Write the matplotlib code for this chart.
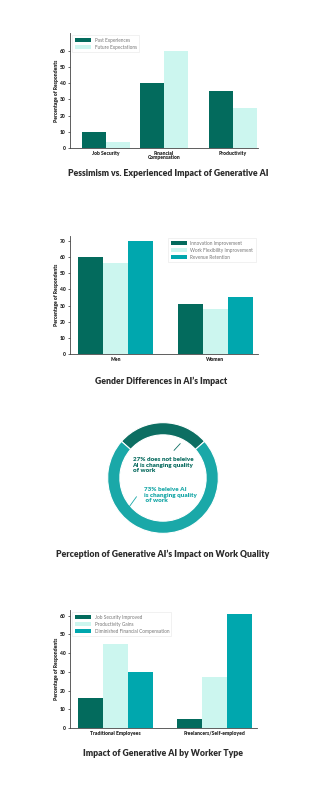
import matplotlib.pyplot as plt
import numpy as np

plt.rcParams['font.family'] = ['Lato', 'DejaVu Sans']

# colours
DARK = '#036b5d'
LIGHT = '#ccf6ef'
TEAL = '#00a7ae'
TEXT = '#2b2b2b'

# chart 1 : pessimism vs experienced impact
pess_cats = ['Job Security', 'Financial\nCompensation', 'Productivity']
pess_past = [10, 40, 35]
pess_future = [4, 60, 25]

# chart 2 : gender differences
gender_cats = ['Men', 'Women']
gender_innovation = [60, 31]
gender_flex = [56, 28]
gender_revenue = [70, 35]

# chart 3 : perception of work quality
quality_share = [27, 73]
quality_labels = ['27% does not beleive\nAI is changing quality\nof work',
                  '73% beleive AI\nis changing quality\n of work']

# chart 4 : worker type
worker_cats = ['Traditional Employees', 'Freelancers/Self-employed']
worker_security = [16, 5]
worker_productivity = [45, 27]
worker_diminished = [30, 61]

W, H = 330, 800
fig = plt.figure(figsize=(W / 100, H / 100), dpi=100)


def px_axes(left, top, right, bottom):
    return fig.add_axes([left / W, 1 - bottom / H, (right - left) / W, (bottom - top) / H])


def style(ax, ymax):
    for s in ['top', 'right']:
        ax.spines[s].set_visible(False)
    for s in ['left', 'bottom']:
        ax.spines[s].set_linewidth(0.6)
        ax.spines[s].set_color('#444444')
    ax.set_ylim(0, ymax)
    ax.tick_params(axis='y', labelsize=3.6, length=1.5, width=0.5, pad=1.5, colors=TEXT)
    ax.tick_params(axis='x', labelsize=3.6, length=0, pad=2, colors=TEXT)
    for lab in ax.get_xticklabels() + ax.get_yticklabels():
        lab.set_fontweight('heavy')
    ax.set_ylabel('Percentage of Respondents', fontsize=3.6, fontweight='heavy',
                  color=TEXT, labelpad=0.5)


def legend(ax, loc):
    leg = ax.legend(loc=loc, fontsize=3.4, frameon=True, handlelength=3.4,
                    handleheight=1.0, borderpad=0.5, labelspacing=0.45,
                    fancybox=False, edgecolor='#e6e6e6', labelcolor='#777777')
    leg.get_frame().set_linewidth(0.5)


def title(y, x, text):
    fig.text(x / W, 1 - y / H, text, ha='center', va='center', fontsize=6.2,
             fontweight='heavy', color=TEXT)


# --- chart 1
ax1 = px_axes(70, 33, 258, 148)
pess_pos = np.array([0, 1, 2.19])
bw = 0.42
ax1.bar(pess_pos - bw / 2, pess_past, bw, color=DARK, label='Past Experiences')
ax1.bar(pess_pos + bw / 2, pess_future, bw, color=LIGHT, label='Future Expectations')
ax1.set_xlim(-0.62, 2.62)
ax1.set_yticks(range(0, 61, 10))
ax1.set_xticks(pess_pos)
ax1.set_xticklabels(pess_cats, linespacing=0.9)
style(ax1, 71)
legend(ax1, 'upper left')
title(174, 168, 'Pessimism vs. Experienced Impact of Generative AI')

# --- chart 2
ax2 = px_axes(70, 236, 258, 354)
pos = np.arange(len(gender_cats))
bw = 0.25
ax2.bar(pos - bw, gender_innovation, bw, color=DARK, label='Innovation Improvement')
ax2.bar(pos, gender_flex, bw, color=LIGHT, label='Work Flexibility Improvement')
ax2.bar(pos + bw, gender_revenue, bw, color=TEAL, label='Revenue Retention')
ax2.set_xlim(-0.455, 1.425)
ax2.set_yticks(range(0, 71, 10))
ax2.set_xticks(pos)
ax2.set_xticklabels(gender_cats)
style(ax2, 73)
legend(ax2, 'upper right')
title(381, 161, 'Gender Differences in AI\u2019s Impact')

# --- chart 3 donut
RING_DARK = '#0d6e62'
RING_TEAL = '#1aa8a8'
ax3 = px_axes(106, 421, 220, 535)
start = 90 - quality_share[0] * 3.6 / 2
ax3.pie(quality_share, colors=[RING_DARK, RING_TEAL], startangle=start,
        counterclock=True, radius=1.0,
        wedgeprops=dict(width=0.22, edgecolor='white', linewidth=0.8))
ax3.set_aspect('equal')
ax3.set_xlim(-1.03, 1.03)
ax3.set_ylim(-1.03, 1.03)
ax3.text(-0.55, 0.23, quality_labels[0], fontsize=4.5, fontweight='heavy',
         color=RING_DARK, va='center', ha='left', linespacing=1.15)
ax3.text(-0.35, -0.31, quality_labels[1], fontsize=4.5, fontweight='heavy',
         color=RING_TEAL, va='center', ha='left', linespacing=1.15)
ax3.plot([0.20, 0.31], [0.50, 0.62], color=RING_DARK, lw=0.6)
ax3.plot([-0.48, -0.61], [-0.34, -0.52], color=RING_TEAL, lw=0.6)
title(554, 163, 'Perception of Generative AI\u2019s Impact on Work Quality')

# --- chart 4
ax4 = px_axes(70, 610, 257, 728)
pos = np.arange(len(worker_cats))
ax4.bar(pos - bw, worker_security, bw, color=DARK, label='Job Security Improved')
ax4.bar(pos, worker_productivity, bw, color=LIGHT, label='Productivity Gains')
ax4.bar(pos + bw, worker_diminished, bw, color=TEAL, label='Diminished Financial Compensation')
ax4.set_xlim(-0.455, 1.425)
ax4.set_yticks(range(0, 61, 10))
ax4.set_xticks(pos)
ax4.set_xticklabels(worker_cats)
style(ax4, 63)
legend(ax4, 'upper left')
title(753, 163, 'Impact of Generative AI by Worker Type')

fig.savefig('out.png', dpi=100, facecolor='white')
